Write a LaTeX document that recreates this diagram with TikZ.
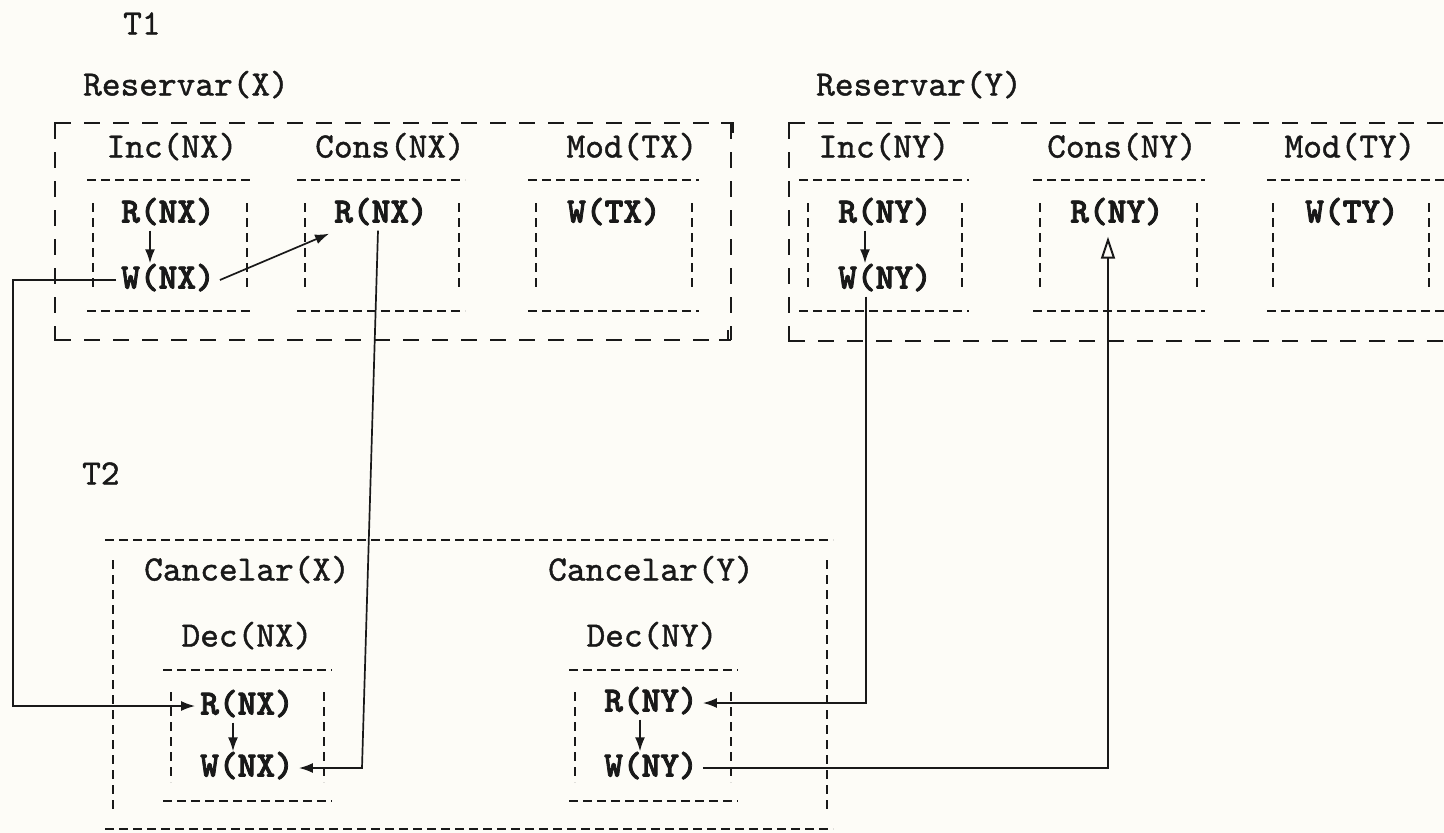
\documentclass[tikz,border=0pt]{standalone}
\usepackage{fontspec}
\newfontfamily\regmono{lmmono10-regular}[Extension=.otf, FakeBold=1.2]
\newfontfamily\boldmono{lmmonolt10-bold}[Extension=.otf, FakeBold=2.2]
\usetikzlibrary{arrows.meta,calc}
\definecolor{paper}{RGB}{253,252,247}
\definecolor{ink}{RGB}{25,25,25}
\begin{document}
\begin{tikzpicture}[x=1pt,y=-1pt,
  lbl/.style={font=\regmono\bfseries\fontsize{35.6}{36}\selectfont, text=ink, inner sep=0pt, text height=25pt, text depth=8pt},
  op/.style={font=\boldmono\bfseries\fontsize{35.6}{36}\selectfont, text=ink, inner xsep=5pt, inner ysep=0pt, text height=25pt, text depth=8pt},
  outerdash/.style={draw=ink, line width=1.6pt, dash pattern=on 16pt off 13pt},
  hdash/.style={draw=ink, line width=1.9pt, dash pattern=on 9pt off 5pt},
  vdash/.style={draw=ink, line width=1.6pt, dash pattern=on 9pt off 6pt},
  corner/.style={draw=ink, line width=1.8pt},
  conn/.style={draw=ink, line width=1.7pt},
  tip/.style={-{Latex[length=14pt,width=10pt]}},
  opentip/.style={-{Triangle[open,length=22pt,width=14pt,line width=2pt]}}
]
\fill[paper] (0,0) rectangle (1444,833);
\useasboundingbox (0,0) rectangle (1444,833);

% ---------------- T1 ----------------
\node[lbl, anchor=west] (t1) at (123,26) {T1};
\node[lbl, anchor=west] (resx) at (83,87) {Reservar(X)};
\node[lbl, anchor=west] (resy) at (816,87) {Reservar(Y)};

% outer box X
\draw[outerdash] (55,123) -- (731,123);
\draw[outerdash] (55,340) -- (731,340);
\draw[outerdash] (55,123) -- (55,340);
\draw[outerdash] (731,123) -- (731,340);
\draw[corner] (63,123) -- (55,123) -- (55,131);
\draw[corner] (66,340) -- (55,340) -- (55,330);
\draw[corner] (721,123) -- (733,123) -- (733,133);
\draw[corner] (719,340) -- (728,340) -- (728,330);

% outer box Y (open to the right)
\draw[outerdash] (789,123) -- (1444,123);
\draw[outerdash] (789,341) -- (1444,341);
\draw[outerdash] (789,123) -- (789,341);
\draw[corner] (800,123) -- (789,123) -- (789,133);
\draw[corner] (802,341) -- (789,341) -- (789,330);

% titles
\node[lbl] (incnx) at (172,149) {Inc(NX)};
\node[lbl] (consnx) at (390,149) {Cons(NX)};
\node[lbl] (modtx) at (632,149) {Mod(TX)};
\node[lbl] (incny) at (884,149) {Inc(NY)};
\node[lbl] (consny) at (1122,149) {Cons(NY)};
\node[lbl] (modty) at (1350,149) {Mod(TY)};

% operation frames T1
\foreach \a/\b/\c/\d in {87/253/93/247, 297/465/305/459, 528/699/536/692, 799/969/808/962, 1033/1205/1040/1197, 1267/1444/1273/1429}{
  \draw[hdash] (\a,180) -- (\b,180);
  \draw[hdash] (\a,311) -- (\b,311);
  \draw[vdash] (\c,203) -- (\c,291);
  \draw[vdash] (\d,203) -- (\d,291);
}

% operations T1
\node[op] (rnx1) at (168,214) {R(NX)};
\node[op] (wnx1) at (168,280) {W(NX)};
\node[op] (rnxc) at (381,214) {R(NX)};
\node[op] (wtx) at (614,214) {W(TX)};
\node[op] (rny1) at (885,214) {R(NY)};
\node[op] (wny1) at (885,280) {W(NY)};
\node[op] (rnyc) at (1117,214) {R(NY)};
\node[op] (wty) at (1352,214) {W(TY)};

% ---------------- T2 ----------------
\node[lbl, anchor=west] (t2) at (82,476) {T2};
\draw[hdash] (105,540) -- (833,540);
\draw[hdash] (105,829) -- (833,829);
\draw[vdash] (113,560) -- (113,813);
\draw[vdash] (827,560) -- (827,810);

\node[lbl] (canx) at (247,572) {Cancelar(X)};
\node[lbl] (cany) at (651,572) {Cancelar(Y)};
\node[lbl] (decnx) at (247,638) {Dec(NX)};
\node[lbl] (decny) at (652,638) {Dec(NY)};

\foreach \a/\b/\c/\d in {163/332/171/324, 569/738/575/731}{
  \draw[hdash] (\a,670) -- (\b,670);
  \draw[hdash] (\a,801) -- (\b,801);
  \draw[vdash] (\c,692) -- (\c,782);
  \draw[vdash] (\d,692) -- (\d,782);
}

\node[op] (rnx2) at (247,706) {R(NX)};
\node[op] (wnx2) at (247,768) {W(NX)};
\node[op] (rny2) at (651,703) {R(NY)};
\node[op] (wny2) at (651,768) {W(NY)};

% ---------------- connectors ----------------
\coordinate (lx) at (13,0);
\coordinate (cx) at (362,0);
\coordinate (ix) at (866,0);
\coordinate (rx) at (1108,0);

% internal precedences
\draw[conn, tip] ([xshift=-18pt]rnx1.south) -- ([xshift=-18pt]wnx1.north);
\draw[conn, tip] ([xshift=-20pt]rny1.south) -- ([xshift=-20pt]wny1.north);
\draw[conn, tip] ([xshift=-14pt]rnx2.south) -- ([xshift=-14pt]wnx2.north);
\draw[conn, tip] ([xshift=-11pt]rny2.south) -- ([xshift=-11pt]wny2.north);

% W(NX) of Inc -> R(NX) of Cons
\draw[conn, tip] (wnx1.east) -- ([yshift=-3pt]rnxc.south west);

% W(NX) of Inc -> R(NX) of Dec
\draw[conn, tip] (wnx1.west) -- (lx |- wnx1.west) -- (lx |- rnx2.west) -- (rnx2.west);

% R(NX) of Cons -> W(NX) of Dec
\draw[conn, tip] ([xshift=-3pt]rnxc.south) -- (cx |- wnx2.east) -- (wnx2.east);

% W(NY) of Inc -> R(NY) of Dec
\draw[conn, tip] (ix |- wny1.south) -- (ix |- rny2.east) -- (rny2.east);

% W(NY) of Dec -> R(NY) of Cons
\draw[conn, opentip, shorten >=6pt] (wny2.east) -- (rx |- wny2.east) -- (rx |- rnyc.south);

\end{tikzpicture}
\end{document}
